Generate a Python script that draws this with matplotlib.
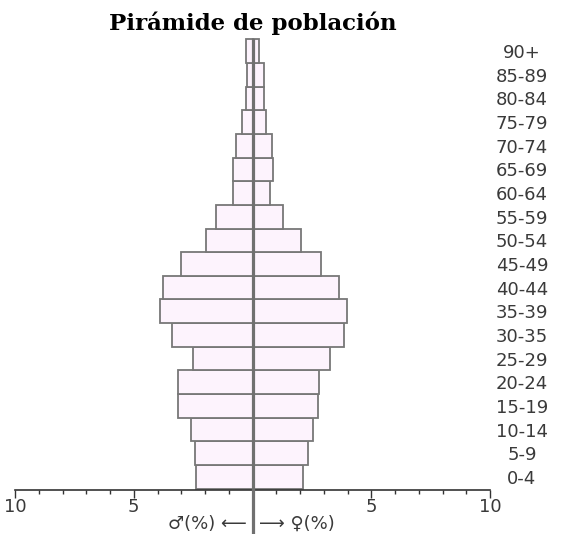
import numpy as np
import matplotlib
matplotlib.use("Agg")
import matplotlib.pyplot as plt

# age groups, bottom to top
groups = ["0-4", "5-9", "10-14", "15-19", "20-24", "25-29", "30-35", "35-39",
          "40-44", "45-49", "50-54", "55-59", "60-64", "65-69", "70-74",
          "75-79", "80-84", "85-89", "90+"]
# percentages
men = [2.36, 2.43, 2.58, 3.12, 3.12, 2.50, 3.37, 3.90, 3.75, 2.99, 1.96,
       1.52, 0.83, 0.83, 0.69, 0.43, 0.29, 0.25, 0.29]
women = [2.11, 2.35, 2.56, 2.74, 2.81, 3.26, 3.86, 3.96, 3.65, 2.88, 2.04,
         1.28, 0.72, 0.88, 0.82, 0.58, 0.50, 0.50, 0.28]

fill = "#fdf3fd"
edge = "#777777"
txt = "#3a3a3a"

fig = plt.figure(figsize=(5.61, 5.34), dpi=100)
ax = fig.add_axes([15 / 561, 44 / 534, 475 / 561, 452 / 534])

y = np.arange(len(groups))
ax.barh(y, -np.array(men), height=1.0, color=fill, edgecolor=edge, linewidth=1.3)
ax.barh(y, women, height=1.0, color=fill, edgecolor=edge, linewidth=1.3)

# centre line running down through the axis
ax.axvline(0, ymin=-0.1, ymax=0.995, color="#707070", lw=2.3, clip_on=False, zorder=5)

ax.set_xlim(-10, 10)
ax.set_ylim(-0.55, len(groups) - 0.45)

ax.set_xticks([-10, -5, 5, 10])
ax.set_xticklabels(["10", "5", "5", "10"], fontsize=13, color=txt)
ax.set_xticks(np.arange(-10, 11, 1), minor=True)
ax.tick_params(axis="x", which="major", length=6, width=1, color="#333333", pad=0)
ax.tick_params(axis="x", which="minor", length=3, width=1, color="#333333")

ax.yaxis.tick_right()
ax.set_yticks(y)
ax.set_yticklabels(groups, fontsize=13, color=txt)
ax.tick_params(axis="y", length=0, pad=23)
for lab in ax.get_yticklabels():
    lab.set_horizontalalignment("center")

for s in ["top", "left", "right"]:
    ax.spines[s].set_visible(False)
ax.spines["bottom"].set_color("#333333")
ax.spines["bottom"].set_linewidth(1.2)

fig.text(253 / 561, 1 - 23 / 534, "Pirámide de población", ha="center", va="center",
         fontsize=16.5, fontweight="bold", family="DejaVu Serif")
fig.text(247 / 561, 1 - 524 / 534, "♂(%) ⟵", ha="right", va="center",
         fontsize=13, color=txt)
fig.text(259 / 561, 1 - 524 / 534, "⟶ ♀(%)", ha="left", va="center",
         fontsize=13, color=txt)

fig.savefig("out.png", dpi=100)
